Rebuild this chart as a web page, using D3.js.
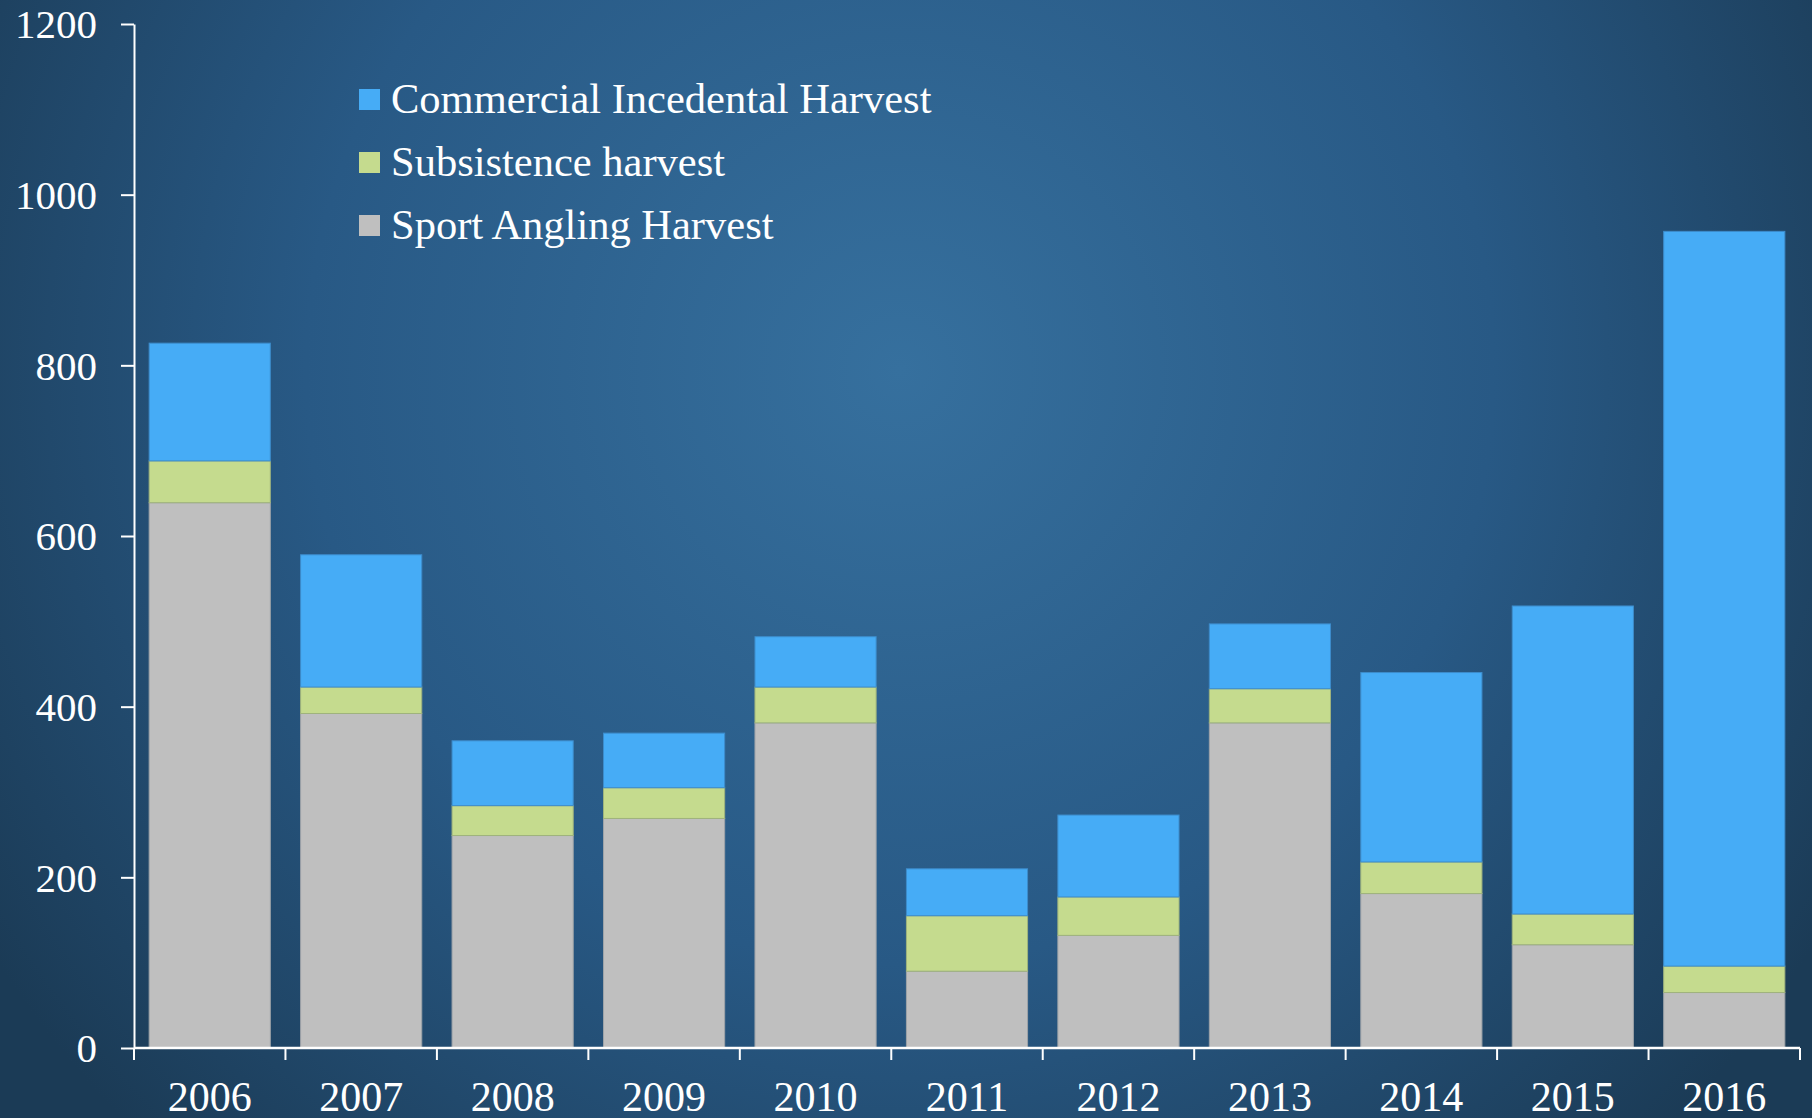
<!DOCTYPE html>
<html>
<head>
<meta charset="utf-8">
<script src="https://cdn.jsdelivr.net/npm/d3@7"></script>
<style>
  html, body { margin: 0; padding: 0; background: #1d3d59; }
  svg { display: block; }
</style>
</head>
<body>
<svg width="1812" height="1118"></svg>
<script>
// chart data
const years = ['2006', '2007', '2008', '2009', '2010', '2011', '2012', '2013', '2014', '2015', '2016'];
const sportAngling = [639, 392, 249, 269, 381, 90, 132, 381, 181, 121, 65];
const subsistence = [49, 31, 35, 36, 42, 65, 45, 40, 37, 36, 31];
const commercial = [138, 155, 76, 64, 59, 55, 96, 76, 222, 361, 861];
const seriesNames = ['Sport Angling Harvest', 'Subsistence harvest', 'Commercial Incedental Harvest'];
const yTicks = [0, 200, 400, 600, 800, 1000, 1200];

function main() {
    const svg = d3.select('svg');
    const W = 1812, H = 1118;
    const left = 134, right = 1800, top = 24, bottom = 1048;

    // background
    const defs = svg.append('defs');
    const grad = defs.append('radialGradient')
        .attr('id', 'bg')
        .attr('gradientUnits', 'userSpaceOnUse')
        .attr('cx', 900).attr('cy', 370).attr('r', 1080);
    grad.append('stop').attr('offset', '0%').attr('stop-color', '#36709e');
    grad.append('stop').attr('offset', '55%').attr('stop-color', '#285985');
    grad.append('stop').attr('offset', '100%').attr('stop-color', '#1b3b56');
    svg.append('rect').attr('width', W).attr('height', H).attr('fill', 'url(#bg)');

    const table = years.map(function (y, i) {
        return { year: y, sport: sportAngling[i], subs: subsistence[i], comm: commercial[i] };
    });
    const keys = ['sport', 'subs', 'comm'];
    const fills = { sport: '#bfbfbf', subs: '#c5db8e', comm: '#46acf6' };
    const strokes = { sport: '#9ea3a8', subs: '#9fb37d', comm: '#3d8ccb' };

    const x = d3.scaleBand().domain(years).range([left, right])
        .paddingInner(0.2).paddingOuter(0.1);
    const y = d3.scaleLinear().domain([0, 1200]).range([bottom, top]);

    const stacked = d3.stack().keys(keys)(table);

    svg.append('g').selectAll('g')
        .data(stacked)
        .enter().append('g')
        .attr('fill', function (d) { return fills[d.key]; })
        .attr('stroke', function (d) { return strokes[d.key]; })
        .attr('stroke-width', 1)
        .selectAll('rect')
        .data(function (d) { return d; })
        .enter().append('rect')
        .attr('x', function (d) { return x(d.data.year); })
        .attr('y', function (d) { return y(d[1]); })
        .attr('width', x.bandwidth())
        .attr('height', function (d) { return y(d[0]) - y(d[1]); });

    const font = '"Liberation Serif", "Times New Roman", serif';

    // y axis
    const yAxis = svg.append('g')
        .attr('transform', 'translate(' + left + ',0)')
        .call(d3.axisLeft(y).tickValues(yTicks).tickFormat(d3.format('d'))
            .tickSize(13).tickPadding(24).tickSizeOuter(0));
    yAxis.select('.domain').attr('stroke', '#fff').attr('stroke-width', 2);
    yAxis.selectAll('.tick line').attr('stroke', '#fff').attr('stroke-width', 2);
    yAxis.selectAll('.tick text')
        .attr('fill', '#fff')
        .attr('font-family', font)
        .attr('font-size', 41)
        .attr('dy', '0.34em');

    // x axis: labels at band centres, ticks on band edges
    const xAxis = svg.append('g')
        .attr('transform', 'translate(0,' + bottom + ')')
        .call(d3.axisBottom(x).tickSize(0).tickPadding(33).tickSizeOuter(0));
    xAxis.select('.domain').remove();
    xAxis.selectAll('.tick text')
        .attr('fill', '#fff')
        .attr('font-family', font)
        .attr('font-size', 42)
        .attr('dy', '0.71em');
    xAxis.append('line')
        .attr('x1', left).attr('x2', right)
        .attr('stroke', '#fff').attr('stroke-width', 2.5);
    const edges = d3.range(years.length + 1).map(function (i) { return left + i * x.step(); });
    xAxis.selectAll('.edge')
        .data(edges)
        .enter().append('line')
        .attr('class', 'edge')
        .attr('x1', function (d) { return d; }).attr('x2', function (d) { return d; })
        .attr('y1', 0).attr('y2', 12)
        .attr('stroke', '#fff').attr('stroke-width', 2);

    // legend
    const legendOrder = [2, 1, 0];
    const legend = svg.append('g').attr('transform', 'translate(359,89)');
    const item = legend.selectAll('g')
        .data(legendOrder)
        .enter().append('g')
        .attr('transform', function (d, i) { return 'translate(0,' + i * 63 + ')'; });
    item.append('rect')
        .attr('width', 21).attr('height', 21)
        .attr('fill', function (d) { return fills[keys[d]]; });
    item.append('text')
        .attr('x', 32).attr('y', 24)
        .attr('fill', '#fff')
        .attr('font-family', font)
        .attr('font-size', 42.5)
        .text(function (d) { return seriesNames[d]; });
}
main();
</script>
</body>
</html>
